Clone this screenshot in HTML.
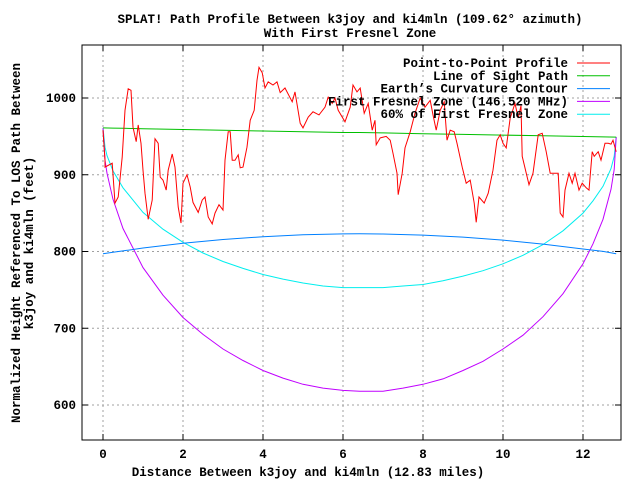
<!DOCTYPE html>
<html><head><meta charset="utf-8"><style>
body{margin:0;background:#fff}
svg{display:block;font-family:"Liberation Mono","DejaVu Sans Mono",monospace;font-size:12.5px;font-weight:bold}
text{font-family:"Liberation Mono","DejaVu Sans Mono",monospace}
</style></head><body>
<svg width="640" height="480" viewBox="0 0 640 480">
<g id="grid"></g>
<g id="series"></g>
<rect x="82" y="45" width="539" height="395" fill="none" stroke="#000" stroke-width="1"/>
<g id="axes"></g>
<text x="350" y="23" text-anchor="middle">SPLAT! Path Profile Between k3joy and ki4mln (109.62° azimuth)</text>
<text x="350" y="37" text-anchor="middle">With First Fresnel Zone</text>
<text x="308" y="476" text-anchor="middle">Distance Between k3joy and ki4mln (12.83 miles)</text>
<g transform="translate(20,243) rotate(-90)">
<text x="0" y="0" text-anchor="middle">Normalized Height Referenced To LOS Path Between</text>
<text x="0" y="13" text-anchor="middle">k3joy and ki4mln (feet)</text>
</g>
<g id="legend"></g>
</svg>
<script>
const profileDist=[0,0.05,0.05,0.23,0.3,0.38,0.48,0.55,0.63,0.7,0.75,0.83,0.88,0.95,1.0,1.05,1.13,1.23,1.3,1.38,1.43,1.5,1.58,1.63,1.73,1.8,1.88,1.95,2.0,2.1,2.18,2.25,2.38,2.48,2.55,2.63,2.73,2.8,2.9,3.0,3.05,3.13,3.18,3.23,3.3,3.38,3.43,3.5,3.6,3.68,3.78,3.85,3.9,3.98,4.05,4.13,4.25,4.35,4.43,4.55,4.73,4.8,4.93,5.0,5.13,5.25,5.4,5.55,5.63,5.73,5.8,5.88,6.05,6.18,6.25,6.35,6.43,6.53,6.63,6.73,6.8,6.83,6.93,7.08,7.18,7.25,7.35,7.38,7.48,7.55,7.68,7.8,7.93,8.05,8.18,8.25,8.33,8.43,8.53,8.6,8.68,8.78,8.85,8.98,9.08,9.18,9.28,9.33,9.4,9.53,9.63,9.75,9.85,9.93,10.0,10.08,10.18,10.3,10.38,10.45,10.48,10.65,10.75,10.88,10.98,11.08,11.18,11.38,11.43,11.5,11.55,11.65,11.73,11.8,11.9,11.98,12.08,12.15,12.23,12.28,12.38,12.45,12.55,12.63,12.7,12.75,12.83];
const profileHeight=[958,919,910,915,863,871,923,984,1012,1010,962,943,965,941,906,876,842,867,947,941,897,893,880,906,927,910,858,837,889,900,884,864,851,867,871,845,836,850,861,854,919,956,956,919,919,926,909,910,936,971,984,1023,1040,1033,1013,1021,1017,1021,1007,1013,995,1008,967,961,975,982,978,988,1001,993,1000,984,969,988,1017,1008,1013,980,993,958,971,939,948,950,945,928,902,874,902,935,956,980,1000,988,997,978,958,984,995,945,958,956,941,910,889,893,863,838,871,863,876,906,945,952,941,935,974,993,974,990,924,887,902,952,954,930,902,902,850,845,880,902,889,902,880,889,883,880,930,924,930,919,941,941,940,945,930];
const curveDist=[0,0.25,0.5,1,2,3,4,5,6,6.415,7,8,9,10,11,12,12.5,12.83];
const losHeight=[961,960.8,960.5,960,959,958,957,956,955,955,954.5,953.5,952.6,951.6,950.7,949.8,949.3,949];
const curvatureHeight=[797,798.9,800.8,804.5,810.7,815.6,819.3,821.7,822.9,823,822.8,821.4,818.8,814.9,809.7,803.3,800.1,797];
const fresnelDist=[0,0.05,0.1,0.25,0.5,1,1.5,2,2.5,3,3.5,4,4.5,5,5.5,6,6.415,7,7.5,8,8.5,9,9.5,10,10.5,11,11.5,12,12.25,12.5,12.7,12.78,12.83];
const fresnelHeight=[961,919,902,868,830,779,743,714,692,673,658,645,635,627,622,619,618,618,622,627,634,645,657,673,691,715,745,784,810,842,881,907,949];
const fresnel60Height=[961,936,925,905,883,851,829,812,798,787,778,770,764,759,755,753,753,753,755,757,762,768,775,784,795,809,827,850,866,885,908,924,949];
const xTicks=[0,2,4,6,8,10,12];
const yTicks=[600,700,800,900,1000];
const legendLabels=["Point-to-Point Profile","Line of Sight Path","Earth’s Curvature Contour","First Fresnel Zone (146.520 MHz)","60% of First Fresnel Zone"];
const legendColors=["#ff0000","#00c000","#0080ff","#c000ff","#00eeee"];

const X=d=>103+d*40;
const Y=v=>98+(1000-v)*0.7675;
const NS="http://www.w3.org/2000/svg";
function mk(tag,attrs,parent){const e=document.createElementNS(NS,tag);for(const k in attrs)e.setAttribute(k,attrs[k]);parent.appendChild(e);return e;}
const grid=document.getElementById('grid'),axes=document.getElementById('axes'),series=document.getElementById('series'),legend=document.getElementById('legend');
xTicks.forEach(t=>{
  const l=mk('line',{x1:X(t),x2:X(t),y1:45,y2:440,stroke:'#a0a0a0','stroke-dasharray':'2,3'},grid);
  
  
  mk('line',{x1:X(t),x2:X(t),y1:440,y2:434,stroke:'#000'},axes);
  mk('line',{x1:X(t),x2:X(t),y1:45,y2:51,stroke:'#000'},axes);
  const tx=mk('text',{x:X(t),y:458,'text-anchor':'middle'},axes);
  tx.textContent=t;
  
  
});
yTicks.forEach(t=>{
  const l=mk('line',{x1:82,x2:621,y1:Y(t),y2:Y(t),stroke:'#a0a0a0','stroke-dasharray':'2,3'},grid);
  
  
  mk('line',{x1:82,x2:88,y1:Y(t),y2:Y(t),stroke:'#000'},axes);
  mk('line',{x1:615,x2:621,y1:Y(t),y2:Y(t),stroke:'#000'},axes);
  const tx=mk('text',{x:76,y:Y(t)+4,'text-anchor':'end'},axes);
  tx.textContent=t;
  
  
});
function line(xs,ys,color,name){
  const p=mk('polyline',{points:xs.map((d,i)=>X(d).toFixed(1)+','+Y(ys[i]).toFixed(1)).join(' '),fill:'none',stroke:color,'stroke-width':1},series);
  
  
}
line(fresnelDist,fresnel60Height,legendColors[4],'fresnel-60-line');
line(fresnelDist,fresnelHeight,legendColors[3],'fresnel-zone-line');
line(curveDist,curvatureHeight,legendColors[2],'earth-curvature-line');
line(curveDist,losHeight,legendColors[1],'line-of-sight-line');
line(profileDist,profileHeight,legendColors[0],'profile-line');
legendLabels.forEach((lab,i)=>{
  const y=63+i*12.8;
  const t=mk('text',{x:568,y:y+4,'text-anchor':'end'},legend);
  t.textContent=lab;
  
  
  const l=mk('line',{x1:577,x2:610,y1:y,y2:y,stroke:legendColors[i]},legend);
  
  
});
</script>
</body></html>
